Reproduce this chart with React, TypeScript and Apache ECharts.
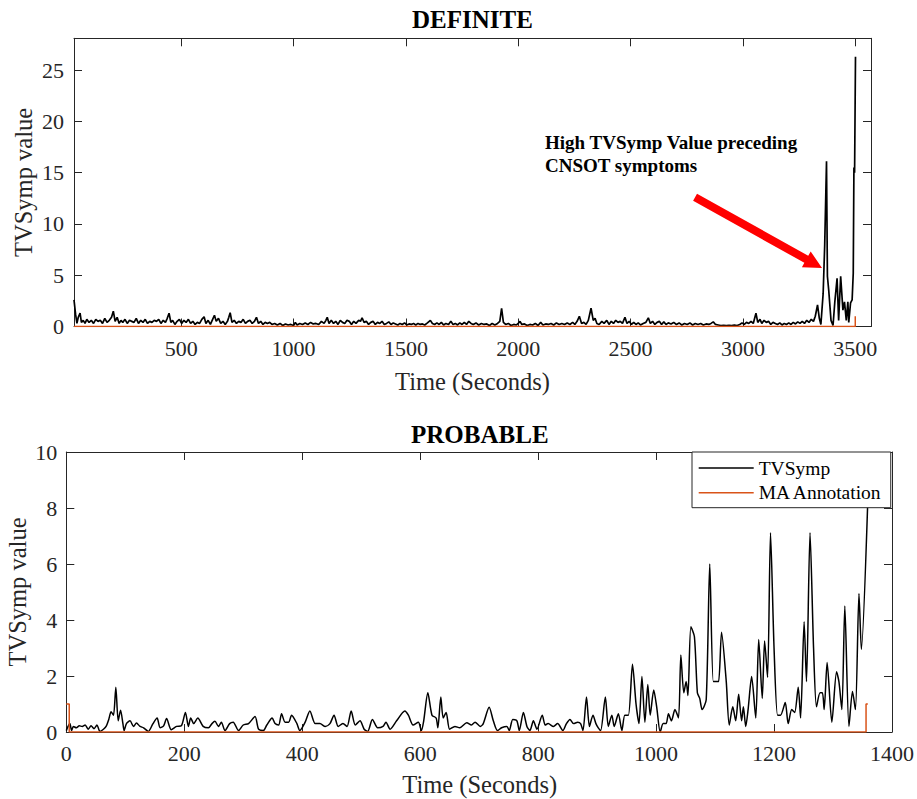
import React, { useEffect, useRef } from 'react';
import * as echarts from 'echarts';

const FONT = 'Liberation Serif';
const AXIS_COLOR = '#262626';
const ORANGE = '#D95319';

// ---------- DEFINITE ----------
const definiteXTicks = [500, 1000, 1500, 2000, 2500, 3000, 3500];
const definiteYTicks = [0, 5, 10, 15, 20, 25];

const definiteEarly: [number, number][] = [
  [23, 2.6], [30, 1.2], [36, 0.3], [42, 0.9], [50, 1.3], [56, 0.4], [64, 0.6], [72, 0.3], [80, 0.7], [90, 0.4],
  [100, 0.6], [110, 0.3], [120, 0.7], [130, 0.5], [140, 0.6], [150, 0.3], [160, 0.8], [170, 0.4], [180, 0.6], [190, 0.9],
  [198, 1.5], [206, 0.5], [215, 0.9], [224, 0.3], [232, 0.6], [240, 0.4], [250, 0.7], [260, 0.3], [270, 0.6], [280, 0.5],
  [290, 0.4], [300, 0.8], [310, 0.3], [320, 0.6], [330, 0.4], [340, 0.7], [350, 0.3], [360, 0.5], [370, 0.4], [380, 0.6],
  [390, 0.5], [400, 0.7], [410, 0.3], [420, 0.6], [430, 0.4], [438, 0.8], [446, 1.3], [454, 0.4], [462, 0.6], [472, 0.2],
  [482, 0.5], [492, 0.7], [502, 0.3], [512, 0.6], [522, 0.4], [532, 0.7], [542, 0.3], [552, 0.5], [562, 0.2], [572, 0.4],
  [582, 0.3], [592, 0.7], [602, 0.95], [610, 0.3], [620, 0.6], [630, 0.2], [640, 0.7], [648, 1.1], [656, 0.5], [666, 0.8],
  [676, 0.3], [686, 0.5], [696, 0.2], [706, 0.5], [712, 0.9], [718, 1.35], [726, 0.4], [736, 0.6], [746, 0.3], [756, 0.5],
  [766, 0.4], [776, 0.7], [786, 0.3], [796, 0.5], [806, 0.6], [816, 0.3], [826, 0.5], [835, 0.9], [844, 0.3], [854, 0.5],
  [864, 0.2], [874, 0.4], [884, 0.3], [894, 0.4],
];

const definiteMid: [number, number][] = [
  [904, 0.2], [916, 0.3], [928, 0.15], [940, 0.3], [952, 0.1], [964, 0.25], [976, 0.15], [988, 0.2], [1000, 0.1], [1008, 0.4],
  [1016, 0.15], [1028, 0.3], [1040, 0.2], [1052, 0.35], [1064, 0.2], [1076, 0.4], [1088, 0.25], [1100, 0.3], [1112, 0.2], [1124, 0.5],
  [1136, 0.3], [1144, 0.6], [1150, 0.9], [1158, 0.3], [1168, 0.6], [1178, 0.3], [1188, 0.5], [1198, 0.2], [1208, 0.6], [1218, 0.4],
  [1228, 0.3], [1238, 0.6], [1248, 0.5], [1258, 0.2], [1268, 0.5], [1278, 0.3], [1290, 0.6], [1298, 0.5], [1305, 0.85], [1314, 0.4],
  [1324, 0.5], [1334, 0.2], [1344, 0.4], [1354, 0.5], [1364, 0.2], [1374, 0.4], [1384, 0.3], [1394, 0.5], [1404, 0.2], [1414, 0.3],
  [1424, 0.45], [1434, 0.2], [1444, 0.35], [1454, 0.25], [1464, 0.15], [1474, 0.3], [1484, 0.2], [1494, 0.35], [1504, 0.15], [1514, 0.25],
  [1524, 0.2], [1534, 0.3], [1544, 0.15], [1554, 0.3], [1564, 0.2], [1574, 0.25], [1584, 0.15], [1596, 0.35], [1609, 0.6], [1618, 0.3],
  [1628, 0.2], [1638, 0.35], [1648, 0.2], [1658, 0.4], [1668, 0.15], [1678, 0.3], [1690, 0.2], [1700, 0.5], [1710, 0.2], [1720, 0.3],
  [1730, 0.15], [1740, 0.35], [1750, 0.2], [1760, 0.4], [1770, 0.2], [1780, 0.5], [1790, 0.3],
];

const definiteLate: [number, number][] = [
  [1800, 0.2], [1812, 0.35], [1824, 0.15], [1836, 0.3], [1848, 0.2], [1860, 0.25], [1872, 0.1], [1884, 0.3], [1896, 0.15], [1908, 0.3],
  [1918, 0.5], [1926, 1.78], [1934, 0.4], [1944, 0.2], [1956, 0.3], [1968, 0.1], [1980, 0.2], [1992, 0.15], [2000, 0.3], [2008, 0.5],
  [2016, 0.2], [2028, 0.25], [2040, 0.1], [2052, 0.2], [2064, 0.15], [2076, 0.3], [2088, 0.1], [2100, 0.4], [2110, 0.15], [2122, 0.25],
  [2134, 0.2], [2146, 0.3], [2158, 0.15], [2170, 0.35], [2182, 0.2], [2194, 0.3], [2206, 0.2], [2218, 0.35], [2230, 0.2], [2242, 0.4],
  [2252, 0.2], [2262, 0.5], [2272, 1.0], [2282, 0.3], [2292, 0.4], [2302, 0.2], [2312, 0.6], [2324, 1.78], [2334, 0.6], [2342, 0.8],
  [2350, 0.3], [2360, 0.2], [2372, 0.5], [2382, 0.3], [2394, 0.6], [2404, 0.2], [2414, 0.5], [2424, 0.3], [2434, 0.6], [2444, 0.4],
  [2454, 0.5], [2464, 0.3], [2475, 0.9], [2484, 0.3], [2494, 0.5], [2504, 0.2], [2514, 0.4], [2524, 0.2], [2534, 0.35], [2544, 0.15],
  [2556, 0.3], [2568, 0.4], [2579, 0.85], [2588, 0.3], [2598, 0.5], [2608, 0.2], [2618, 0.4], [2628, 0.5], [2638, 0.2], [2648, 0.45],
  [2658, 0.2], [2668, 0.35], [2680, 0.25], [2692, 0.4],
  [2704, 0.2], [2716, 0.35], [2728, 0.15], [2740, 0.3], [2752, 0.2], [2764, 0.35], [2776, 0.15], [2788, 0.3], [2800, 0.2], [2812, 0.3],
  [2824, 0.15], [2836, 0.25], [2848, 0.2], [2858, 0.3], [2868, 0.45], [2878, 0.2], [2890, 0.15], [2902, 0.1], [2914, 0.12], [2926, 0.1],
  [2938, 0.12], [2950, 0.08], [2962, 0.15], [2974, 0.1], [2986, 0.2], [2996, 0.35], [3006, 0.2], [3016, 0.4], [3026, 0.3], [3036, 0.5],
  [3046, 0.3], [3058, 1.3], [3066, 0.4], [3076, 0.7], [3084, 0.3], [3094, 0.6], [3104, 0.4], [3114, 0.5], [3124, 0.2], [3134, 0.4],
  [3144, 0.3], [3154, 0.2], [3164, 0.35], [3174, 0.15], [3184, 0.3], [3194, 0.2], [3204, 0.35], [3214, 0.2], [3224, 0.4], [3234, 0.25],
  [3244, 0.45], [3254, 0.3], [3264, 0.5], [3274, 0.3], [3284, 0.6], [3294, 0.4], [3304, 0.7], [3314, 0.5], [3322, 1.0],
];

const definiteOnset: [number, number][] = [
  [3332, 2.1], [3340, 0.8], [3347, 0.2], [3357, 3.2], [3364, 7.96], [3372, 16.1], [3376, 4.9], [3382, 3.5], [3392, 0.6], [3401, 0.1],
  [3409, 2.4], [3419, 4.7], [3426, 0.6], [3435, 4.9], [3445, 1.6], [3452, 2.4], [3460, 0.6], [3467, 2.4], [3471, 0.4], [3479, 2.3],
  [3486, 2.6], [3491, 5.2], [3494, 15.5], [3497, 15.0], [3501, 26.3],
];

const definiteAnnotation: [number, number][] = [[23, 0], [3500, 0], [3500, 1], [3503, 1]];

// ---------- PROBABLE ----------
const probableEarly: [number, number][] = [
  [0, 0.05], [3, 0.2], [6, 0.3], [9, 0.05], [12, 0.2], [17, 0.15], [22, 0.22], [27, 0.2], [32, 0.25], [37, 0.1],
  [42, 0.22], [47, 0.12], [52, 0.25], [57, 0.02], [63, 0.1], [68, 0.22], [72, 0.45], [76, 0.72], [80, 0.6], [84, 1.6],
  [88, 0.4], [92, 0.78], [96, 0.3], [98, 0.05], [102, 0.3], [108, 0.4], [114, 0.2], [119, 0.32], [125, 0.2], [131, 0.15],
  [139, 0.02], [147, 0.3], [154, 0.5], [159, 0.15], [165, 0.22], [170, 0.48], [178, 0.08], [187, 0.2], [195, 0.22], [202, 0.7],
  [207, 0.2], [211, 0.5], [216, 0.3], [223, 0.5], [232, 0.2], [241, 0.15], [247, 0.3], [252, 0.38], [258, 0.2], [263, 0.35],
  [269, 0.05], [277, 0.3], [283, 0.35], [292, 0.05], [300, 0.25], [309, 0.3], [320, 0.55], [326, 0.1], [334, 0.05], [340, 0.25],
  [349, 0.5], [354, 0.3], [360, 0.25], [365, 0.65], [371, 0.35], [377, 0.35], [382, 0.6], [391, 0.3], [396, 0.05], [405, 0.35],
  [413, 0.75], [422, 0.3], [430, 0.3], [439, 0.2], [447, 0.3], [454, 0.6], [461, 0.2], [469, 0.3], [476, 0.2], [483, 0.75],
  [490, 0.25], [498, 0.4], [505, 0.1], [511, 0.02], [519, 0.45], [528, 0.15], [537, 0.2], [542, 0.35], [549, 0.1], [560, 0.4],
  [574, 0.75], [580, 0.6], [588, 0.25], [597, 0.35], [602, 0.05], [606, 0.4], [613, 1.4], [620, 0.6], [627, 0.5], [630, 0.15],
  [635, 1.25], [639, 0.5], [644, 0.7], [650, 0.1], [659, 0.2], [667, 0.15],
];

const probableLate: [number, number][] = [
  [679, 0.33], [687, 0.25], [693, 0.35], [702, 0.2], [707, 0.3], [717, 0.88], [724, 0.4], [731, 0.05], [738, 0.15], [747, 0.2],
  [751, 0.05], [757, 0.45], [764, 0.4], [768, 0.05], [775, 0.7], [781, 0.2], [786, 0.05], [792, 0.4], [798, 0.1], [807, 0.6],
  [812, 0.25], [817, 0.3], [826, 0.2], [833, 0.3], [842, 0.05], [848, 0.3], [854, 0.45], [860, 0.3], [867, 0.35], [872, 0.3],
  [876, 0.05], [882, 1.25], [887, 0.2], [893, 0.6], [898, 0.3], [902, 0.15], [906, 0.05], [914, 1.25], [919, 0.2], [925, 0.6],
  [929, 0.2], [936, 0.65], [942, 0.05], [947, 0.6], [953, 0.6], [960, 2.42], [966, 1.0], [971, 0.3], [976, 1.98], [981, 0.35],
  [986, 1.7], [990, 0.6], [996, 1.5], [1001, 0.9], [1007, 0.0], [1012, 0.3], [1017, 0.3], [1021, 0.65], [1026, 0.4], [1032, 0.8],
  [1038, 0.5], [1042, 2.75], [1047, 1.4], [1051, 1.8], [1054, 1.3], [1059, 3.76], [1065, 3.4], [1070, 1.4], [1074, 1.2], [1078, 0.8],
  [1085, 1.15], [1091, 6.0], [1097, 1.8], [1102, 1.8], [1106, 1.8], [1111, 3.56], [1119, 1.8], [1124, 0.25], [1130, 0.9], [1135, 0.4],
  [1140, 1.35], [1145, 0.4], [1148, 0.9], [1152, 0.2], [1156, 0.8], [1162, 1.98], [1169, 0.5], [1174, 3.3], [1180, 1.2], [1184, 3.25],
  [1189, 1.95], [1194, 7.12], [1200, 3.0], [1206, 0.6], [1211, 0.6], [1219, 1.05], [1224, 0.3], [1230, 0.8], [1235, 0.7], [1241, 1.6],
  [1245, 0.5], [1251, 3.94], [1255, 1.8], [1261, 7.12], [1267, 3.0], [1272, 0.9], [1278, 1.4], [1282, 1.4], [1285, 0.8], [1290, 2.48],
  [1298, 0.35], [1306, 2.15], [1310, 1.8], [1315, 0.8], [1320, 4.5], [1327, 0.2], [1333, 1.45], [1338, 0.8], [1344, 4.95], [1348, 2.95],
  [1359, 8.3],
];

const probableAnnotation: [number, number][] = [[0, 1], [5, 1], [5, 0], [1356, 0], [1356, 1], [1359, 1]];

// annotation arrow (data coordinates of the DEFINITE panel)
const arrowStart: [number, number] = [2787, 12.6];
const arrowTip: [number, number] = [3352, 5.7];

const TICK_FONT = 22;
const NAME_FONT = 24.5;

const labelStyle = (margin: number, extra: any = {}) => ({
  show: true,
  color: AXIS_COLOR,
  fontFamily: FONT,
  fontSize: TICK_FONT,
  margin,
  formatter: (v: number) => `{t|${v}}`,
  rich: { t: { fontFamily: FONT, fontSize: TICK_FONT, color: AXIS_COLOR } },
  ...extra,
});

const baseAxis = () => ({
  type: 'value' as const,
  axisLine: { show: true, onZero: false, lineStyle: { color: AXIS_COLOR, width: 1 } },
  axisTick: { show: true, inside: true, length: 8, lineStyle: { color: AXIS_COLOR, width: 1 } },
  splitLine: { show: false },
});

export default function App() {
  const ref = useRef<HTMLDivElement>(null);

  useEffect(() => {
    if (!ref.current) return;
    const chart = echarts.init(ref.current, null, { renderer: 'svg' });
    const definiteTVSymp = [...definiteEarly, ...definiteMid, ...definiteLate, ...definiteOnset];
    const probableTVSymp = [...probableEarly, ...probableLate];

    const option: any = {
      animation: false,
      backgroundColor: '#ffffff',
      textStyle: { fontFamily: FONT },
      grid: [
        { left: 74, top: 38.3, width: 797, height: 288.2 },
        { left: 66.3, top: 452, width: 827, height: 280 },
      ],
      xAxis: [
        {
          ...baseAxis(), gridIndex: 0, position: 'bottom', min: 23, max: 3570,
          axisLabel: labelStyle(11, { customValues: definiteXTicks }),
          axisTick: { ...baseAxis().axisTick, customValues: definiteXTicks },
        },
        {
          ...baseAxis(), gridIndex: 0, position: 'top', min: 23, max: 3570,
          axisLabel: { show: false },
          axisTick: { ...baseAxis().axisTick, customValues: definiteXTicks },
        },
        {
          ...baseAxis(), gridIndex: 1, position: 'bottom', min: 0, max: 1400, interval: 200,
          axisLabel: labelStyle(10),
        },
        {
          ...baseAxis(), gridIndex: 1, position: 'top', min: 0, max: 1400, interval: 200,
          axisLabel: { show: false },
        },
      ],
      yAxis: [
        {
          ...baseAxis(), gridIndex: 0, position: 'left', min: 0, max: 28.1,
          axisLabel: labelStyle(10, { customValues: definiteYTicks }),
          axisTick: { ...baseAxis().axisTick, customValues: definiteYTicks },
        },
        {
          ...baseAxis(), gridIndex: 0, position: 'right', min: 0, max: 28.1,
          axisLabel: { show: false },
          axisTick: { ...baseAxis().axisTick, customValues: definiteYTicks },
        },
        {
          ...baseAxis(), gridIndex: 1, position: 'left', min: 0, max: 10, interval: 2,
          axisLabel: labelStyle(9),
        },
        {
          ...baseAxis(), gridIndex: 1, position: 'right', min: 0, max: 10, interval: 2,
          axisLabel: { show: false },
        },
      ],
      legend: {
        orient: 'vertical',
        left: 692,
        top: 452,
        icon: 'rect',
        itemWidth: 55,
        itemHeight: 1.5,
        itemGap: 4.7,
        padding: [6, 8, 5, 6.7],
        backgroundColor: '#ffffff',
        borderColor: AXIS_COLOR,
        borderWidth: 1,
        borderRadius: 0,
        textStyle: { fontFamily: FONT, fontSize: 19.5, color: '#000' },
        data: ['TVSymp', 'MA Annotation'],
      },
      series: [
        {
          name: 'TVSymp', type: 'line', xAxisIndex: 0, yAxisIndex: 0, data: definiteTVSymp,
          symbol: 'none', lineStyle: { color: '#000', width: 1.7 }, itemStyle: { color: '#000' }, z: 2,
        },
        {
          name: 'MA Annotation', type: 'line', xAxisIndex: 0, yAxisIndex: 0, data: definiteAnnotation,
          symbol: 'none', lineStyle: { color: ORANGE, width: 1.5 }, itemStyle: { color: ORANGE }, z: 3,
        },
        {
          name: 'TVSymp', type: 'line', xAxisIndex: 2, yAxisIndex: 2, data: probableTVSymp, smooth: 0.25,
          symbol: 'none', lineStyle: { color: '#000', width: 1.5 }, itemStyle: { color: '#000' }, z: 2,
        },
        {
          name: 'MA Annotation', type: 'line', xAxisIndex: 2, yAxisIndex: 2, data: probableAnnotation,
          symbol: 'none', lineStyle: { color: ORANGE, width: 1.5 }, itemStyle: { color: ORANGE }, z: 3,
        },
      ],
    };
    chart.setOption(option);

    const s = chart.convertToPixel({ xAxisIndex: 0, yAxisIndex: 0 }, arrowStart) as number[];
    const e = chart.convertToPixel({ xAxisIndex: 0, yAxisIndex: 0 }, arrowTip) as number[];
    const dx = e[0] - s[0];
    const dy = e[1] - s[1];
    const len = Math.sqrt(dx * dx + dy * dy);
    const ux = dx / len;
    const uy = dy / len;
    const nx = -uy;
    const ny = ux;
    const shaftHalf = 4;
    const headHalf = 9;
    const headLen = 18;
    const bx = e[0] - ux * headLen;
    const by = e[1] - uy * headLen;
    const arrowPts = [
      [s[0] + nx * shaftHalf, s[1] + ny * shaftHalf],
      [bx + nx * shaftHalf, by + ny * shaftHalf],
      [bx + nx * headHalf, by + ny * headHalf],
      [e[0], e[1]],
      [bx - nx * headHalf, by - ny * headHalf],
      [bx - nx * shaftHalf, by - ny * shaftHalf],
      [s[0] - nx * shaftHalf, s[1] - ny * shaftHalf],
    ];

    const nameStyle = (text: string) => ({
      text, align: 'center', verticalAlign: 'middle', fontFamily: FONT, fontSize: NAME_FONT, fill: AXIS_COLOR,
    });

    chart.setOption({
      graphic: [
        {
          type: 'text', x: 472.5, y: 19.5, z: 10,
          style: { text: 'DEFINITE', align: 'center', verticalAlign: 'middle', fontFamily: FONT, fontSize: 25, fontWeight: 'bold', fill: '#000' },
        },
        {
          type: 'text', x: 479.8, y: 434.5, z: 10,
          style: { text: 'PROBABLE', align: 'center', verticalAlign: 'middle', fontFamily: FONT, fontSize: 25, fontWeight: 'bold', fill: '#000' },
        },
        { type: 'text', x: 472.5, y: 381, z: 10, style: nameStyle('Time (Seconds)') },
        { type: 'text', x: 479.8, y: 784, z: 10, style: nameStyle('Time (Seconds)') },
        { type: 'text', x: 23, y: 182.4, rotation: Math.PI / 2, z: 10, style: nameStyle('TVSymp value') },
        { type: 'text', x: 17, y: 592, rotation: Math.PI / 2, z: 10, style: nameStyle('TVSymp value') },
        {
          type: 'text', x: 545, y: 130.5, z: 10,
          style: {
            text: 'High TVSymp Value preceding\nCNSOT symptoms', align: 'left', verticalAlign: 'top',
            fontFamily: FONT, fontSize: 19, fontWeight: 'bold', lineHeight: 23, fill: '#000',
          },
        },
        {
          type: 'polygon', z: 10,
          shape: { points: arrowPts },
          style: { fill: '#ff0000', stroke: 'none' },
        },
      ],
    });

    return () => chart.dispose();
  }, []);

  return (
    <div
      ref={ref}
      style={{ position: 'absolute', left: 0, top: 0, width: 917, height: 799, background: '#fff' }}
    />
  );
}
